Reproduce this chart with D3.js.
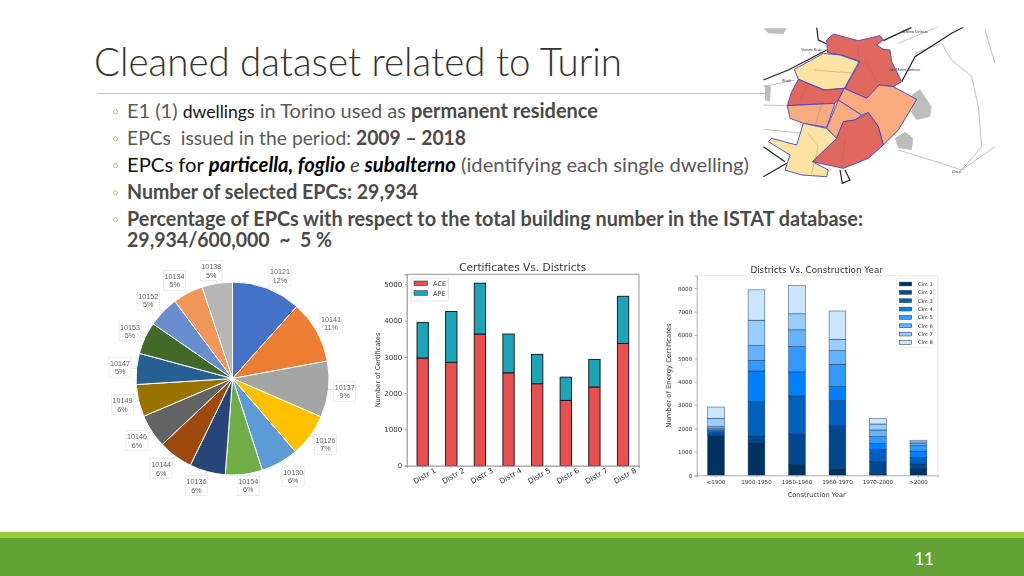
<!DOCTYPE html>
<html><head><meta charset="utf-8">
<script src="https://cdn.jsdelivr.net/npm/d3@7/dist/d3.min.js"></script>
<style>
html,body{margin:0;padding:0;background:#fff}
svg{display:block}
text{font-family:Lato,sans-serif}
.mpl text{font-family:"DejaVu Sans",sans-serif;fill:#333}
.pielab text{font-family:"Liberation Sans",sans-serif;fill:#5f5f5f}
</style></head><body>
<svg id="s" width="1024" height="576" viewBox="0 0 1024 576"></svg>
<script>
// ---------- Data ----------
const pieIds = ["10121","10141","10137","10126","10130","10154","10136","10144","10146","10149","10147","10153","10152","10134","10138"];
const pieShares = [11.6,10.5,9.4,7.2,6.3,6.2,6.0,5.8,5.6,5.4,5.2,5.4,5.2,5.1,5.1];
const pieLabels = [12,11,9,7,6,6,6,6,6,6,5,5,5,5,5];
const pieColors = ["#4472C4","#ED7D31","#A5A5A5","#FFC000","#5B9BD5","#70AD47","#264478","#9E480E","#636363","#997300","#255E91","#43682B","#698ED0","#F1975A","#B7B7B7"];

const districts = ["Distr 1","Distr 2","Distr 3","Distr 4","Distr 5","Distr 6","Distr 7","Distr 8"];
const ace = [2970,2850,3630,2560,2260,1800,2170,3370];
const ape = [980,1400,1400,1070,810,640,760,1300];
const certTicks = [0,1000,2000,3000,4000,5000];

const periods = ["<1900","1900-1950","1950-1960","1960-1970","1970-2000",">2000"];
const circNames = ["Circ 1","Circ 2","Circ 3","Circ 4","Circ 5","Circ 6","Circ 7","Circ 8"];
const circ1 = [1710,1385,440,300,85,270];
const circ2 = [80,300,1355,1840,515,215];
const circ3 = [70,1480,1600,1055,515,285];
const circ4 = [70,1300,1030,600,240,260];
const circ5 = [70,455,1085,955,300,240];
const circ6 = [80,630,715,585,285,90];
const circ7 = [360,1085,685,485,255,70];
const circ8 = [480,1300,1210,1210,245,70];
const circSeries = [circ1,circ2,circ3,circ4,circ5,circ6,circ7,circ8];
const circColors = ["#00305f","#00468f","#0060bf","#0080ff","#3399ff","#66b2ff","#99ccff","#cce5ff"];
const yearTicks = [0,1000,2000,3000,4000,5000,6000,7000,8000];

const bulletLines = [
 [["E1 (1) ",0],["dwellings",1],[" in Torino used as ",0],["permanent residence",2]],
 [["EPCs  issued in the period: ",0],["2009 – 2018",2]],
 [["EPCs for ",1],["particella, foglio",3],[" e ",4],["subalterno",3],[" (identifying each single dwelling)",0]],
 [["Number of selected EPCs: 29,934",2]],
 [["Percentage of EPCs with respect to the total building number in the ISTAT database:",2]],
 [["29,934/600,000  ~  5 %",2]]
];

// Inset map outlines, in the map's own grid units
const mapRegions = [
 {k:"a",p:[[215,60],[235,42],[310,62],[375,47],[385,60],[365,75],[385,88],[405,90],[410,125],[440,185],[415,200],[372,195],[335,235],[270,205],[315,125],[260,105],[218,98]]},
 {k:"c",p:[[118,148],[205,100],[255,105],[312,125],[268,205],[210,210],[130,178]]},
 {k:"a",p:[[130,178],[205,210],[268,205],[250,240],[240,250],[97,257],[110,215]]},
 {k:"b",p:[[97,257],[240,250],[215,322],[145,310],[105,295]]},
 {k:"b",p:[[250,240],[320,285],[300,300],[265,305],[245,355],[215,325]]},
 {k:"b",p:[[268,205],[335,235],[372,195],[415,200],[485,238],[430,330],[385,375],[370,320],[340,278],[320,285],[250,240]]},
 {k:"a",p:[[340,278],[370,320],[385,375],[340,415],[265,445],[172,425],[245,355],[265,305],[300,300]]},
 {k:"c",p:[[145,310],[215,325],[245,355],[172,425],[220,450],[215,470],[140,465],[90,450],[105,405],[40,365],[50,355],[125,375]]}
];
const mapBlobs = [
 [[470,225],[495,208],[530,260],[525,290],[485,300],[470,280]],
 [[420,355],[450,335],[475,355],[470,390],[430,385]],
 [[25,25],[95,25],[85,42],[40,40]],
 [[30,195],[48,200],[45,245],[30,240]]
];
const mapRoads = [
 [[25,180],[100,150],[215,90]],
 [[185,22],[190,60],[215,72]],
 [[385,62],[470,22]],
 [[440,185],[480,110],[590,40],[625,22]],
 [[25,380],[90,425]],
 [[25,470],[95,430]],
 [[255,450],[262,490],[285,480],[270,450]]
];
const mapLanes = [
 [[25,255],[97,257]],[[25,328],[145,340]],[[480,100],[560,70],[590,120],[650,170],[670,260],[680,380],[620,450],[560,430],[430,390]],
 [[620,450],[720,380]],[[690,30],[720,130]],[[430,70],[550,20]],[[25,200],[120,180]],
 [[180,150],[300,160]],[[310,75],[310,130],[270,210]],[[370,195],[330,120]],[[135,240],[160,190]],[[180,320],[200,250]],
 [[270,360],[260,440]],[[160,340],[190,380],[170,460]]
];
const mapNames = [["Venaria Reale",170,93],["Settimo Torinese",480,38],["San Mauro Torinese",450,153],["Rivoli",95,185],["Chieri",605,458]];

// ---------- Slide frame ----------
const svg = d3.select("#s");
const defs = svg.append("defs");
defs.append("filter").attr("id","soft").attr("x","-5%").attr("y","-5%").attr("width","110%").attr("height","110%")
  .append("feGaussianBlur").attr("stdDeviation",0.35);

svg.append("text").attr("x",94).attr("y",76).attr("font-size",39.5).attr("font-weight",300)
  .attr("fill","#333").attr("textLength",528).attr("lengthAdjust","spacingAndGlyphs").text("Cleaned dataset related to Turin");
svg.append("line").attr("x1",97).attr("x2",765).attr("y1",93.5).attr("y2",93.5).attr("stroke","#bfbfbf");

const bulletY = d3.scaleOrdinal().domain(d3.range(6)).range([118,145,172,199,226,247]);
const bulletWidth = [471,339,622,291,736,205];
const runStyle = [
 {fill:"#595959"},
 {fill:"#111"},
 {fill:"#4a4a4a",weight:700},
 {fill:"#000",weight:700,italic:1},
 {fill:"#404040",italic:1}
];
const runSize = [20,17.6];
bulletLines.forEach((runs,i)=>{
  if(i<5) svg.append("circle").attr("cx",115.5).attr("cy",bulletY(i)-6.3).attr("r",2).attr("fill","none").attr("stroke","#a3c14e").attr("stroke-width",.9);
  const t = svg.append("text").attr("x",127).attr("y",bulletY(i)).attr("font-size",20).attr("xml:space","preserve")
    .attr("textLength",bulletWidth[i]).attr("lengthAdjust","spacingAndGlyphs");
  runs.forEach(r=>{
    const s = runStyle[r[1]];
    t.append("tspan").text(r[0]).attr("fill",s.fill)
     .attr("font-weight",s.weight||400).attr("font-style",s.italic?"italic":"normal")
     .attr("font-size",r[0]==="dwellings"?runSize[1]:runSize[0]);
  });
});

svg.append("rect").attr("x",0).attr("y",532).attr("width",1024).attr("height",6).attr("fill","#9acb3b");
svg.append("rect").attr("x",0).attr("y",538).attr("width",1024).attr("height",38).attr("fill","#62a338");
svg.append("text").attr("x",924).attr("y",565).attr("text-anchor","middle").attr("font-size",17).attr("fill","#fff").text("11");

// ---------- Inset map ----------
const mx = d3.scaleLinear().domain([0,750]).range([755,1005]);
const my = d3.scaleLinear().domain([0,510]).range([20,190]);
const mapClip = defs.append("clipPath").attr("id","mc");
mapClip.append("rect").attr("x",mx(24)).attr("y",my(22)).attr("width",233).attr("height",159);
const map = svg.append("g").attr("clip-path","url(#mc)").append("g").attr("filter","url(#soft)");
const ln = d3.line().x(d=>mx(d[0])).y(d=>my(d[1]));
const regionFill = {a:"#e0675f",b:"#f9ab80",c:"#fbe4a3"};
map.selectAll(".blob").data(mapBlobs).join("path").attr("d",d=>ln(d)+"Z").attr("fill","#bdbdbd");
map.selectAll(".lane").data(mapLanes.slice(0,7)).join("path").attr("d",d=>ln(d)).attr("fill","none").attr("stroke","#a8a8a8").attr("stroke-width",.7);
map.selectAll(".road").data(mapRoads).join("path").attr("d",d=>ln(d)).attr("fill","none").attr("stroke","#222").attr("stroke-width",1.2);
map.selectAll(".reg").data(mapRegions).join("path").attr("d",d=>ln(d.p)+"Z")
   .attr("fill",d=>regionFill[d.k]).attr("stroke","#4a3fc4").attr("stroke-width",.9).attr("stroke-linejoin","round");
map.selectAll(".lane2").data(mapLanes.slice(7)).join("path").attr("d",d=>ln(d)).attr("fill","none").attr("stroke","#8a6a5a").attr("stroke-opacity",.55).attr("stroke-width",.6);
map.selectAll(".nm").data(mapNames).join("text").attr("x",d=>mx(d[1])).attr("y",d=>my(d[2])).attr("text-anchor","middle")
   .attr("font-size",3.6).attr("font-family","Liberation Sans").attr("fill","#333").text(d=>d[0]);

// ---------- Pie ----------
const pieG = svg.append("g").attr("transform","translate(232.5,378.5)").attr("filter","url(#soft)");
const R = 96.5, labelR = 113;
const labelTurn = [4,0,0,-1,-2.5,-1.5,3.5,2,0,0,0,0,-1,-3,-2];
const labelReach = [0,0,0,1,2,-5,0,2,1,0,0,0,2,1,-3];
const arcs = d3.pie().sort(null)(pieShares);
const arc = d3.arc().innerRadius(0).outerRadius(R);
const rimArc = d3.arc().innerRadius(R).outerRadius(R);
const labelAt = (d,i)=>{
  const a = (d.startAngle+d.endAngle)/2 + labelTurn[i]*Math.PI/180, r = labelR+labelReach[i];
  return d3.pointRadial(a,r);
};
pieG.selectAll("path.sl").data(arcs).join("path").attr("class","sl").attr("d",arc)
  .attr("fill",(d,i)=>pieColors[i]).attr("stroke","#fff").attr("stroke-width",1);
const lab = pieG.append("g").attr("class","pielab");
lab.selectAll("line").data(arcs).join("line")
  .attr("x1",d=>rimArc.centroid(d)[0]).attr("y1",d=>rimArc.centroid(d)[1])
  .attr("x2",(d,i)=>labelAt(d,i)[0]).attr("y2",(d,i)=>labelAt(d,i)[1])
  .attr("stroke","#c4c4c4").attr("stroke-width",.5);
const lg = lab.selectAll("g").data(arcs).join("g").attr("transform",(d,i)=>`translate(${labelAt(d,i)})`);
lg.append("rect").attr("x",-11).attr("y",-10).attr("width",22).attr("height",20).attr("fill","#fff").attr("stroke","#e2e2e2").attr("stroke-width",.6);
lg.append("text").attr("text-anchor","middle").attr("y",-1.5).attr("font-size",7.2).text((d,i)=>pieIds[i]);
lg.append("text").attr("text-anchor","middle").attr("y",7).attr("font-size",7.2).text((d,i)=>pieLabels[i]+"%");

// ---------- Certificates vs districts ----------
const c2 = svg.append("g").attr("class","mpl").attr("filter","url(#soft)");
const x2 = d3.scaleBand().domain(districts).range([406.7,639]).paddingInner(.605).paddingOuter(.36);
const y2 = d3.scaleLinear().domain([0,5276]).range([465.7,274.3]);
const stack2 = d3.stack().keys(["ace","ape"])(districts.map((d,i)=>({d,ace:ace[i],ape:ape[i]})));
const certColors = ["#e94f4f","#1fa4b8"];
c2.selectAll("g.s").data(stack2).join("g").attr("class","s").attr("fill",(d,i)=>certColors[i])
 .selectAll("rect").data(d=>d).join("rect")
 .attr("x",d=>x2(d.data.d)).attr("width",x2.bandwidth())
 .attr("y",d=>y2(d[1])).attr("height",d=>y2(d[0])-y2(d[1]))
 .attr("stroke","#111").attr("stroke-width",.9);
const ax2y = c2.append("g").attr("transform","translate(406.7,0)").call(d3.axisLeft(y2).tickValues(certTicks).tickSize(2).tickPadding(2.5).tickFormat(d3.format("d")));
const ax2x = c2.append("g").attr("transform","translate(0,465.7)").call(d3.axisBottom(x2).tickSize(2).tickPadding(3));
ax2x.selectAll("text").attr("text-anchor","end").attr("transform","rotate(-30) translate(9,2)");
[ax2y,ax2x].forEach(a=>{a.selectAll("text").attr("font-size",7);a.selectAll("path,line").attr("stroke","#999");a.select("path").attr("stroke-width",1.2)});
ax2x.selectAll("text").attr("font-size",7.4);
c2.append("path").attr("d",d3.line()([[x2.range()[0],y2(5276)],[x2.range()[1],y2(5276)],[x2.range()[1],y2(0)]])).attr("fill","none").attr("stroke","#aaa").attr("stroke-width",1.2);
c2.append("text").attr("x",522.7).attr("y",271).attr("text-anchor","middle").attr("font-size",10.6).text("Certificates Vs. Districts");
c2.append("text").attr("transform","translate(379.5,370) rotate(-90)").attr("text-anchor","middle").attr("font-size",6.6).text("Number of Certificates");
const leg2 = c2.append("g").attr("transform","translate(411,278)");
leg2.append("rect").attr("width",37.5).attr("height",23).attr("fill","#fff").attr("stroke","#ccc").attr("stroke-width",.5);
["ACE","APE"].forEach((n,i)=>{
  const g = leg2.append("g").attr("transform",`translate(3,${3+i*9.7})`);
  g.append("rect").attr("width",13.5).attr("height",4.6).attr("fill",certColors[i]).attr("stroke","#222").attr("stroke-width",.5);
  g.append("text").attr("x",19).attr("y",5).attr("font-size",6.6).text(n);
});

// ---------- Districts vs construction year ----------
const c3 = svg.append("g").attr("class","mpl").attr("filter","url(#soft)");
const x3 = d3.scaleBand().domain(periods).range([696.7,937.7]).paddingInner(.588).paddingOuter(.27);
const y3 = d3.scaleLinear().domain([0,8540]).range([475.3,275.7]);
const rows3 = periods.map((p,i)=>{const o={p};circNames.forEach((c,j)=>o[c]=circSeries[j][i]);return o;});
const stack3 = d3.stack().keys(circNames)(rows3);
c3.selectAll("g.s").data(stack3).join("g").attr("class","s").attr("fill",(d,i)=>circColors[i])
 .selectAll("rect").data(d=>d).join("rect")
 .attr("x",d=>x3(d.data.p)).attr("width",x3.bandwidth())
 .attr("y",d=>y3(d[1])).attr("height",d=>y3(d[0])-y3(d[1]))
 .attr("stroke","#12304f").attr("stroke-opacity",.75).attr("stroke-width",.6);
const ax3y = c3.append("g").attr("transform","translate(696.7,0)").call(d3.axisLeft(y3).tickValues(yearTicks).tickSize(2).tickPadding(2.5).tickFormat(d3.format("d")));
const ax3x = c3.append("g").attr("transform","translate(0,475.3)").call(d3.axisBottom(x3).tickSize(2).tickPadding(3));
[ax3y,ax3x].forEach(a=>{a.selectAll("text").attr("font-size",5.6);a.selectAll("path,line").attr("stroke","#aaa");});
c3.append("path").attr("d",d3.line()([[x3.range()[0],y3(8540)],[x3.range()[1],y3(8540)],[x3.range()[1],y3(0)]])).attr("fill","none").attr("stroke","#ddd").attr("stroke-width",.8);
c3.append("text").attr("x",816.7).attr("y",273).attr("text-anchor","middle").attr("font-size",8.8).text("Districts Vs. Construction Year");
c3.append("text").attr("x",816.7).attr("y",496.5).attr("text-anchor","middle").attr("font-size",6.6).text("Construction Year");
c3.append("text").attr("transform","translate(671,375.5) rotate(-90)").attr("text-anchor","middle").attr("font-size",6.9).text("Number of Energy Certificates");
const leg3 = c3.append("g").attr("transform","translate(896.7,278.3)");
leg3.append("rect").attr("width",36.6).attr("height",69.4).attr("fill","#fff").attr("stroke","#e4e4e4").attr("stroke-width",.5);
circNames.forEach((n,i)=>{
  const g = leg3.append("g").attr("transform",`translate(2.8,${3.8+i*8.35})`);
  g.append("rect").attr("width",12.2).attr("height",3.8).attr("fill",circColors[i]).attr("stroke","#12304f").attr("stroke-width",.5);
  g.append("text").attr("x",18.5).attr("y",3.9).attr("font-size",5.2).text(n);
});
</script></body></html>
